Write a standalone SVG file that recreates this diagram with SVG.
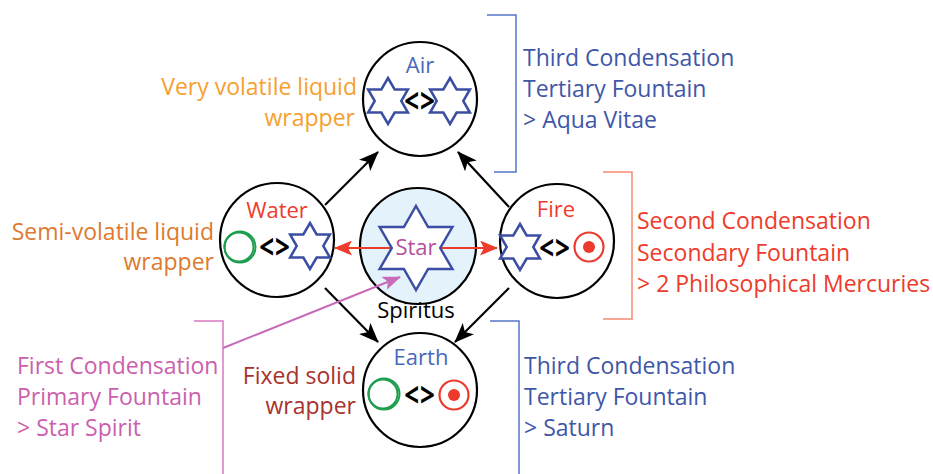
<svg xmlns="http://www.w3.org/2000/svg" width="933" height="474" viewBox="0 0 933 474">
<style>
text{font-family:"Open Sans","Liberation Sans",sans-serif;font-size:23px}
.node{fill:none;stroke:#000;stroke-width:2.2}
.lbl{font-size:22px;text-anchor:middle}
.sym{font-size:26px;font-weight:bold;text-anchor:middle;fill:#000;letter-spacing:1px}
.st{fill:#fff;stroke:#3b4ea3;stroke-width:2.5;stroke-linejoin:miter}
.grn{fill:none;stroke:#1e9e4e;stroke-width:2}
.sun{fill:none;stroke:#ec3a2c;stroke-width:2.2}
.dot{fill:#ec3a2c}
.arr{stroke:#000;stroke-width:2.2;fill:none}
.blue{fill:#3f57a8}
.red{fill:#ee3b2b}
.pink{fill:#cb5fae}
</style>
<defs>
<path id="s" d="M0,-23 L6.64,-11.5 L19.92,-11.5 L13.28,0 L19.92,11.5 L6.64,11.5 L0,23 L-6.64,11.5 L-19.92,11.5 L-13.28,0 L-19.92,-11.5 L-6.64,-11.5 Z"/>
<marker id="ah" viewBox="0 0 20 16" refX="19" refY="8" markerWidth="20" markerHeight="16" orient="auto" markerUnits="userSpaceOnUse"><path d="M0,0 L20,8 L0,16 L5,8 Z" fill="#000"/></marker>
<marker id="ahr" viewBox="0 0 18 15" refX="17" refY="7.5" markerWidth="18" markerHeight="15" orient="auto-start-reverse" markerUnits="userSpaceOnUse"><path d="M0,0 L18,7.5 L0,15 L4,7.5 Z" fill="#ee3b2b"/></marker>
<marker id="ahp" viewBox="0 0 18 14" refX="17" refY="7" markerWidth="18" markerHeight="14" orient="auto" markerUnits="userSpaceOnUse"><path d="M0,0 L18,7 L0,14 L4,7 Z" fill="#c86bb8"/></marker>
</defs>

<g id="brackets" fill="none" stroke-width="1.5">
<polyline points="487,15 516,15 516,172 494,172" stroke="#5475c8"/>
<polyline points="603,172 632,172 632,319 603,319" stroke="#f58a70"/>
<polyline points="490,321 519,321 519,474" stroke="#5475c8"/>
<polyline points="194,321 223,321 223,474" stroke="#d77ac0"/>
</g>

<g id="air">
<circle class="node" cx="420" cy="99" r="57"/>
<text class="lbl" x="420" y="73" fill="#4a68bb">Air</text>
<use href="#s" class="st" x="388" y="101"/>
<use href="#s" class="st" x="450" y="101"/>
<text class="sym" transform="translate(420 113) scale(1 1.3)">&lt;&gt;</text>
</g>

<g id="water">
<circle class="node" cx="277" cy="240" r="57"/>
<text class="lbl" x="277" y="218" fill="#ee3b2b">Water</text>
<circle class="grn" cx="240" cy="247" r="15.5"/>
<circle class="grn" cx="239" cy="247" r="14.5"/>
<text class="sym" transform="translate(275 259) scale(1 1.3)">&lt;&gt;</text>
<use href="#s" class="st" x="310" y="246"/>
</g>

<g id="fire">
<circle class="node" cx="557" cy="241" r="57"/>
<text class="lbl" x="556" y="217" fill="#ee3b2b">Fire</text>
<use href="#s" class="st" x="520" y="247"/>
<text class="sym" transform="translate(555 260) scale(1 1.3)">&lt;&gt;</text>
<circle class="sun" cx="589" cy="247" r="14.5"/>
<circle class="dot" cx="589" cy="247" r="6"/>
</g>

<g id="earth">
<circle class="node" cx="420" cy="390" r="57"/>
<text class="lbl" x="421" y="365" fill="#4a68bb">Earth</text>
<circle class="grn" cx="384" cy="394" r="15.5"/>
<circle class="grn" cx="383" cy="394" r="14.5"/>
<text class="sym" transform="translate(420 407) scale(1 1.3)">&lt;&gt;</text>
<circle class="sun" cx="454" cy="395" r="14.5"/>
<circle class="dot" cx="454" cy="395" r="6"/>
</g>

<g id="star">
<circle cx="418" cy="246" r="58" fill="#e4f2fb" stroke="#000" stroke-width="2.2"/>
<line x1="335" y1="248" x2="497" y2="248" stroke="#ee3b2b" stroke-width="2" marker-start="url(#ahr)" marker-end="url(#ahr)"/>
<path class="st" d="M416,206 L428.12,227 L452.37,227 L440.25,248 L452.37,269 L428.12,269 L416,290 L403.88,269 L379.63,269 L391.75,248 L379.63,227 L403.88,227 Z"/>
<text class="lbl" x="416" y="255" fill="#b54fa0" font-size="24">Star</text>
<text class="lbl" x="416" y="318" fill="#000">Spiritus</text>
</g>

<g id="connectors">
<line class="arr" x1="325" y1="205" x2="378" y2="152" marker-end="url(#ah)"/>
<line class="arr" x1="509" y1="207" x2="458" y2="152" marker-end="url(#ah)"/>
<line class="arr" x1="325" y1="288" x2="378" y2="342" marker-end="url(#ah)"/>
<line class="arr" x1="509" y1="288" x2="455" y2="342" marker-end="url(#ah)"/>
<line x1="223" y1="348" x2="400" y2="277" stroke="#c86bb8" stroke-width="2" marker-end="url(#ahp)"/>
</g>

<g id="labels">
<text x="357" y="95" fill="#f7a02f" text-anchor="end">Very volatile liquid</text>
<text x="355" y="126" fill="#f7a02f" text-anchor="end">wrapper</text>
<text x="214" y="240" fill="#dd7a30" text-anchor="end">Semi-volatile liquid</text>
<text x="214" y="270" fill="#dd7a30" text-anchor="end">wrapper</text>
<text x="356" y="384" fill="#a8322d" text-anchor="end">Fixed solid</text>
<text x="356" y="414" fill="#a8322d" text-anchor="end">wrapper</text>
<text class="blue" x="523" y="66">Third Condensation</text>
<text class="blue" x="523" y="97">Tertiary Fountain</text>
<text class="blue" x="523" y="128">&gt; Aqua Vitae</text>
<text class="red" x="637" y="229">Second Condensation</text>
<text class="red" x="637" y="261">Secondary Fountain</text>
<text class="red" x="637" y="292">&gt; 2 Philosophical Mercuries</text>
<text class="blue" x="524" y="374">Third Condensation</text>
<text class="blue" x="524" y="405">Tertiary Fountain</text>
<text class="blue" x="524" y="436">&gt; Saturn</text>
<text class="pink" x="17" y="374">First Condensation</text>
<text class="pink" x="17" y="405">Primary Fountain</text>
<text class="pink" x="17" y="436">&gt; Star Spirit</text>
</g>
</svg>
